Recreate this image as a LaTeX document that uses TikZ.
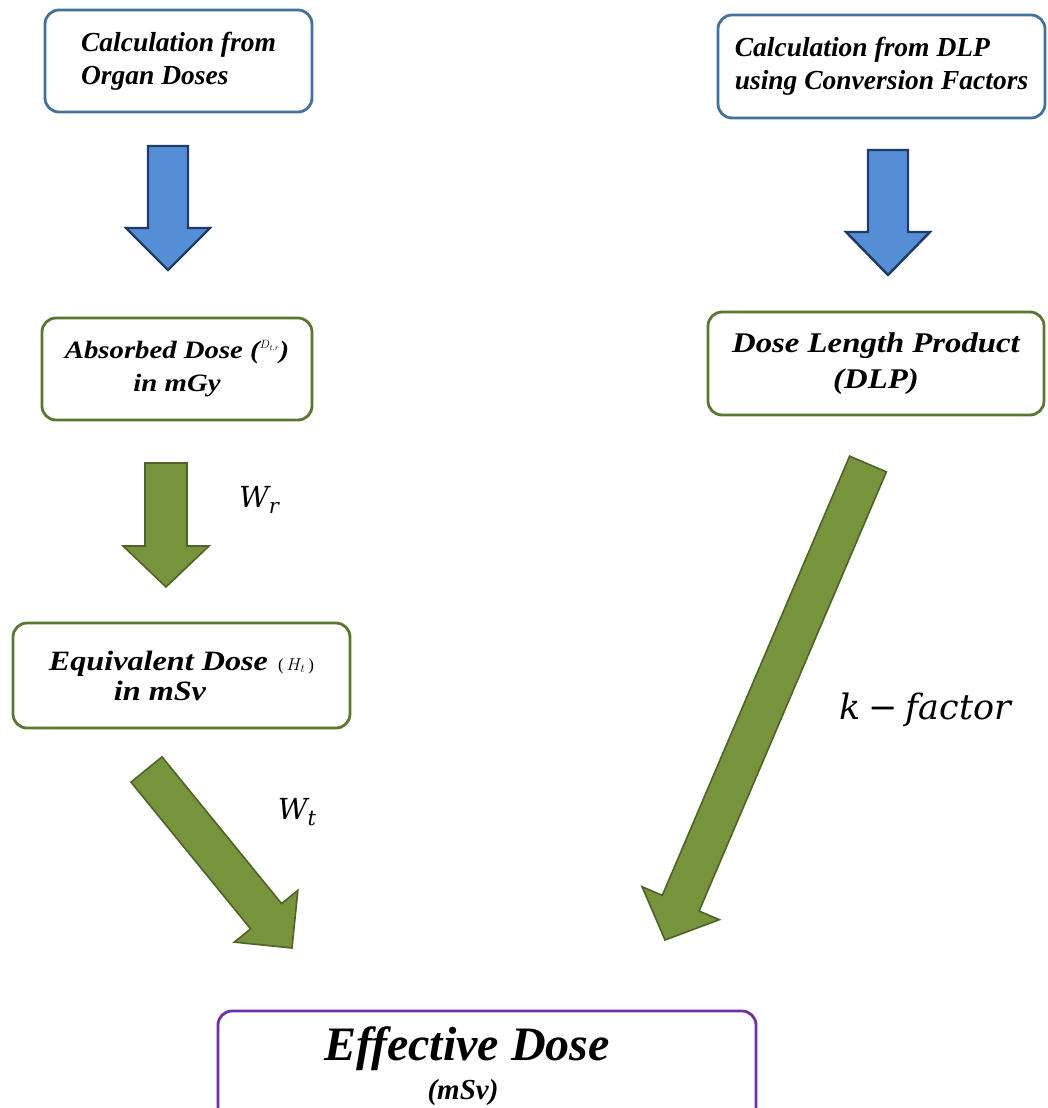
\documentclass[tikz,border=0pt]{standalone}
\usepackage{fontspec}
\setmainfont{Liberation Serif}
\newfontfamily\widefont[FakeStretch=1.15]{Liberation Serif}
\newfontfamily\lblfont{DejaVu Serif}
\usetikzlibrary{calc}

\definecolor{boxblue}{HTML}{41719C}
\definecolor{boxgreen}{HTML}{5A7630}
\definecolor{boxpurple}{HTML}{7030A0}
\definecolor{arrowblue}{HTML}{558ED5}
\definecolor{arrowblueline}{HTML}{1F3A64}
\definecolor{arrowgreen}{HTML}{77933C}
\definecolor{arrowgreenline}{HTML}{4F6228}

% Block arrow: #1 style, #2 tail, #3 tip, #4 half shaft width, #5 half head width, #6 head length
\newcommand\blockarrow[6]{%
  \coordinate (ba-base) at ($(#3)!#6!(#2)$);
  \draw[#1] ($(#2)!#4!90:(#3)$) -- ($(ba-base)!#4!90:(#3)$) -- ($(ba-base)!#5!90:(#3)$)
    -- (#3) -- ($(ba-base)!#5!-90:(#3)$) -- ($(ba-base)!#4!-90:(#3)$)
    -- ($(#2)!#4!-90:(#3)$) -- cycle;
}
% Italic symbol with a lowered index
\newcommand\wsym[1]{W\raisebox{-6pt}{\fontsize{21}{21}\selectfont #1}}

\begin{document}
\begin{tikzpicture}[x=1pt,y=-1pt,
  box/.style={draw, rounded corners=14pt, line width=2.8pt, fill=white, inner sep=0pt},
  bluebox/.style={box, draw=boxblue},
  greenbox/.style={box, draw=boxgreen},
  purplebox/.style={box, draw=boxpurple},
  bluearrow/.style={fill=arrowblue, draw=arrowblueline, line width=2.4pt},
  greenarrow/.style={fill=arrowgreen, draw=arrowgreenline, line width=1.6pt},
  mathlbl/.style={inner sep=0pt, font=\lblfont\itshape\fontsize{29}{34}\selectfont},
]
\useasboundingbox (0,0) rectangle (1047,1108);
\clip (0,0) rectangle (1047,1108);

% Boxes
\node[bluebox, minimum width=267pt, minimum height=102pt, align=left,
      font=\fontsize{27.5}{33}\selectfont\bfseries\itshape] (organ) at (178.5,61)
      {Calculation from\\Organ Doses};
\node[bluebox, minimum width=327pt, minimum height=103pt, align=left,
      font=\fontsize{27.5}{33}\selectfont\bfseries\itshape] (dlpcalc) at (881.5,66.5)
      {Calculation from DLP\\using Conversion Factors};
\node[greenbox, minimum width=270pt, minimum height=102pt, align=center,
      font=\widefont\fontsize{25}{33}\selectfont\bfseries\itshape] (absorbed) at (177,369)
      {Absorbed Dose (\raisebox{0.4em}{\normalfont\fontsize{12}{12}\selectfont$D_{t,r}$})\\in mGy};
\node[greenbox, minimum width=336pt, minimum height=103pt, align=center,
      font=\widefont\fontsize{28.5}{36}\selectfont\bfseries\itshape] (dlp) at (876,363.5)
      {\rule{0pt}{8pt}Dose Length Product\\(DLP)};
\node[greenbox, minimum width=337pt, minimum height=105pt, align=left,
      font=\widefont\fontsize{28}{30}\selectfont\bfseries\itshape] (equiv) at (181.5,675.5)
      {Equivalent Dose\hspace{10pt}{\normalfont\fontsize{17}{17}\selectfont(\hspace{3pt}$H_t$\hspace{3pt})}\\
       \hspace{65pt}in mSv};
\node[purplebox, minimum width=538pt, minimum height=110pt] (effective) at (487,1066) {};
\node[anchor=base, inner sep=0pt, font=\fontsize{48}{52}\selectfont\bfseries\itshape]
      (efftitle) at (467,1060) {Effective Dose};
\node[anchor=base, inner sep=0pt, font=\fontsize{29}{32}\selectfont\bfseries\itshape]
      (effunit) at (463,1099) {(mSv)};

% Arrow end points
\coordinate (a1s) at (168,146);   \coordinate (a1e) at (168,270);
\coordinate (a2s) at (888,150);   \coordinate (a2e) at (888,275);
\coordinate (a3s) at (166,463);   \coordinate (a3e) at (166,587);
\coordinate (a4s) at (146.5,769.5); \coordinate (a4e) at (292,948);
\coordinate (a5s) at (868,464);   \coordinate (a5e) at (665,940);

% Block arrows
\blockarrow{bluearrow}{a1s}{a1e}{20pt}{42pt}{42pt}
\blockarrow{bluearrow}{a2s}{a2e}{20pt}{42pt}{43pt}
\blockarrow{greenarrow}{a3s}{a3e}{21pt}{43pt}{41pt}
\blockarrow{greenarrow}{a4s}{a4e}{20pt}{41pt}{41pt}
\blockarrow{greenarrow}{a5s}{a5e}{20pt}{42pt}{40pt}

% Weighting factor labels
\node[mathlbl] (wr) at (259,500) {\wsym{r}};
\node[mathlbl] (wt) at (297,812) {\wsym{t}};
\node[mathlbl, font=\lblfont\itshape\fontsize{35}{40}\selectfont] (kf) at (925,710)
      {k\hspace{8pt}\normalfont\lblfont\fontsize{35}{40}\selectfont\char"2212\hspace{8pt}\itshape factor};
\end{tikzpicture}
\end{document}
